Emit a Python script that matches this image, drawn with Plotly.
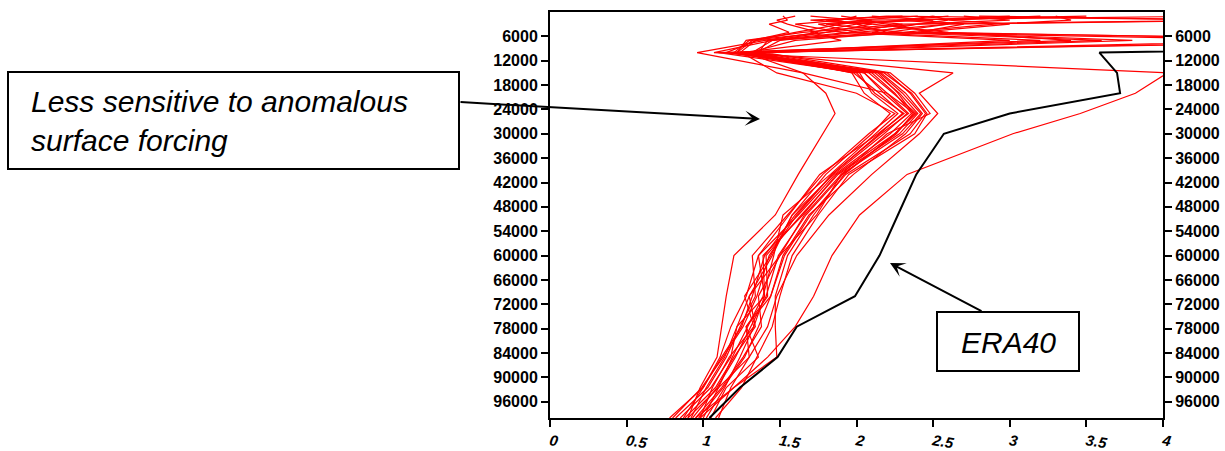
import plotly.graph_objects as go

# ---------------- data ----------------
levels = [100000, 92500, 85000, 77500, 70000, 60000, 50000, 40000, 30000,
          25000, 20000, 15000, 10000, 7000, 5000, 3000, 2000, 1000]

era40 = [1.04, 1.24, 1.485, 1.61, 1.99, 2.15, 2.27, 2.39, 2.57, 3.0, 3.72,
         3.70, 3.585, 8.0]

member_01 = [0.95, 1.20, 1.42, 1.60, 1.72, 1.84, 2.02, 2.33, 3.02, 3.46, 3.82, 4.03, 1.07, 1.45, 1.80, 2.10, 1.70, 2.30]
member_02 = [0.90, 0.98, 1.09, 1.12, 1.15, 1.20, 1.47, 1.62, 1.78, 1.86, 1.80, 1.65, 0.96, 1.40, 1.75, 1.55, 1.48, 1.60]
member_03 = [0.98, 1.20, 1.48, 1.47, 1.47, 1.55, 1.72, 1.92, 2.25, 2.38, 2.20, 2.05, 1.30, 5.00, 2.10, 2.40, 2.60, 2.50]
member_04 = [0.78, 1.00, 1.12, 1.25, 1.32, 1.40, 1.60, 1.84, 2.15, 2.30, 2.15, 1.98, 1.22, 1.32, 1.56, 1.43, 1.55, 1.52]
member_05 = [0.85, 1.05, 1.18, 1.22, 1.40, 1.36, 1.62, 1.86, 2.22, 2.36, 2.25, 2.10, 1.25, 3.60, 2.20, 2.00, 2.30, 2.60]
member_06 = [0.88, 1.08, 1.20, 1.34, 1.30, 1.50, 1.66, 1.90, 2.30, 2.42, 2.30, 2.15, 1.20, 1.30, 1.80, 2.40, 3.00, 2.70]
member_07 = [1.00, 1.10, 1.30, 1.28, 1.44, 1.53, 1.70, 1.93, 2.35, 2.45, 2.35, 2.20, 1.28, 5.50, 2.50, 2.20, 2.00, 2.40]
member_08 = [0.92, 1.02, 1.14, 1.22, 1.30, 1.45, 1.58, 1.80, 2.10, 2.22, 2.05, 1.97, 1.35, 1.50, 2.00, 2.60, 4.60, 2.20]
member_09 = [1.05, 1.15, 1.36, 1.28, 1.42, 1.41, 1.64, 1.88, 2.28, 2.40, 2.28, 2.12, 1.15, 1.35, 1.60, 1.90, 2.10, 4.40]
member_10 = [0.95, 1.12, 1.26, 1.38, 1.36, 1.50, 1.74, 1.90, 2.20, 2.48, 2.38, 2.22, 1.40, 3.80, 2.40, 3.00, 2.60, 3.20]
member_11 = [1.10, 1.18, 1.30, 1.42, 1.48, 1.61, 1.82, 2.10, 2.41, 2.53, 2.41, 2.63, 1.32, 1.45, 2.20, 2.60, 2.30, 2.50]
member_12 = [0.82, 1.03, 1.15, 1.24, 1.34, 1.32, 1.55, 1.78, 2.08, 2.25, 2.00, 1.48, 1.25, 1.90, 1.70, 2.00, 2.30, 3.50]
member_13 = [0.98, 1.06, 1.17, 1.33, 1.27, 1.44, 1.58, 1.85, 2.18, 2.33, 2.18, 2.05, 1.19, 3.20, 2.00, 1.75, 2.10, 1.90]
member_14 = [1.02, 1.14, 1.24, 1.33, 1.40, 1.39, 1.65, 1.87, 2.25, 2.39, 2.24, 2.08, 1.30, 1.60, 2.30, 2.90, 3.40, 3.30]
member_15 = [0.90, 1.10, 1.19, 1.29, 1.39, 1.46, 1.52, 1.83, 2.12, 2.27, 2.10, 2.02, 1.10, 3.40, 2.60, 2.10, 1.80, 2.20]
member_16 = [1.08, 1.25, 1.35, 1.45, 1.50, 1.58, 1.75, 1.95, 2.38, 2.46, 2.36, 2.18, 1.22, 1.28, 1.65, 2.30, 2.00, 1.70]
member_17 = [0.87, 1.00, 1.11, 1.18, 1.28, 1.36, 1.56, 1.76, 2.14, 2.31, 2.12, 2.00, 1.18, 5.80, 2.30, 1.80, 2.50, 2.10]
member_18 = [0.93, 1.09, 1.21, 1.31, 1.41, 1.49, 1.67, 1.91, 2.26, 2.37, 2.27, 2.14, 1.36, 1.42, 1.95, 2.30, 4.50, 2.80]
member_19 = [0.80, 0.99, 1.13, 1.26, 1.35, 1.43, 1.61, 1.84, 2.16, 2.34, 2.20, 1.65, 1.28, 3.00, 1.90, 1.60, 1.90, 2.00]
member_20 = [0.97, 1.13, 1.27, 1.36, 1.44, 1.52, 1.69, 1.98, 2.32, 2.43, 2.32, 2.16, 1.24, 1.34, 2.40, 2.70, 2.40, 3.00]

members = [member_01, member_02, member_03, member_04, member_05, member_06,
           member_07, member_08, member_09, member_10, member_11, member_12,
           member_13, member_14, member_15, member_16, member_17, member_18,
           member_19, member_20]

y_ticks = [6000, 12000, 18000, 24000, 30000, 36000, 42000, 48000, 54000,
           60000, 66000, 72000, 78000, 84000, 90000, 96000]
x_ticks = [0, 0.5, 1, 1.5, 2, 2.5, 3, 3.5, 4]

annotation_texts = ["Less sensitive to anomalous<br>surface forcing", "ERA40"]

# ---------------- layout geometry ----------------
W, H = 1225, 451
L, R, T, B = 550, 1163, 12, 418


def px(x):
    return (x - L) / (R - L)


def py(y):
    return (B - y) / (B - T)


fig = go.Figure()

for m in members:
    fig.add_trace(go.Scatter(x=m, y=levels[:len(m)], mode="lines",
                             line=dict(color="#ff0000", width=1.2),
                             showlegend=False, hoverinfo="skip"))

fig.add_trace(go.Scatter(x=era40, y=levels[:len(era40)], mode="lines",
                         line=dict(color="#000000", width=2),
                         showlegend=False, hoverinfo="skip"))

fig.add_trace(go.Scatter(x=[], y=[], yaxis="y2", showlegend=False,
                         hoverinfo="skip"))

tick_font = dict(family="Liberation Sans", size=16, color="black", weight="bold")

yaxis_common = dict(range=[100000, 0], tickvals=y_ticks,
                    ticktext=[str(v) for v in y_ticks],
                    showgrid=False, zeroline=False, showline=True,
                    linecolor="black", linewidth=2, ticks="outside",
                    ticklen=7, tickwidth=2, tickcolor="black",
                    tickfont=tick_font, automargin=False)

fig.update_layout(
    width=W, height=H,
    margin=dict(l=L, r=W - R, t=T, b=H - B, pad=0, autoexpand=False),
    paper_bgcolor="white", plot_bgcolor="white",
    xaxis=dict(range=[0, 4], tickvals=x_ticks,
               ticktext=[("%g" % v) for v in x_ticks],
               showgrid=False, zeroline=False, showline=True, mirror=True,
               linecolor="black", linewidth=2, ticks="outside", ticklen=7,
               tickwidth=2, tickcolor="black", tickangle=10, automargin=False,
               tickfont=dict(family="Liberation Sans", size=15, color="black",
                             weight="bold", style="italic")),
    yaxis=yaxis_common,
    yaxis2=dict(yaxis_common, overlaying="y", side="right"),
)

# boxes
fig.add_shape(type="rect", xref="paper", yref="paper",
              x0=px(8), x1=px(459), y0=py(169), y1=py(72),
              line=dict(color="black", width=2), fillcolor="white")
fig.add_shape(type="rect", xref="paper", yref="paper",
              x0=px(937), x1=px(1079), y0=py(371), y1=py(312),
              line=dict(color="black", width=2), fillcolor="white")

ann_font = dict(family="Liberation Sans", color="black", style="italic")

fig.add_annotation(xref="paper", yref="paper", x=px(29), y=py(121),
                   xanchor="left", yanchor="middle", align="left",
                   text=annotation_texts[0], showarrow=False,
                   font=dict(ann_font, size=30))
fig.add_annotation(xref="paper", yref="paper", x=px(1008), y=py(342),
                   xanchor="center", yanchor="middle",
                   text=annotation_texts[1], showarrow=False,
                   font=dict(ann_font, size=30))

# arrows
fig.add_annotation(xref="paper", yref="paper", x=px(760), y=py(119),
                   ax=459 - 760, ay=102 - 119, text="", showarrow=True,
                   arrowhead=3, arrowsize=1.25, arrowwidth=2,
                   arrowcolor="black", standoff=0, startstandoff=0)
fig.add_annotation(xref="paper", yref="paper", x=px(890), y=py(263),
                   ax=983 - 890, ay=312 - 263, text="", showarrow=True,
                   arrowhead=3, arrowsize=1.25, arrowwidth=2,
                   arrowcolor="black", standoff=0, startstandoff=0)

fig.write_html("out.html")
